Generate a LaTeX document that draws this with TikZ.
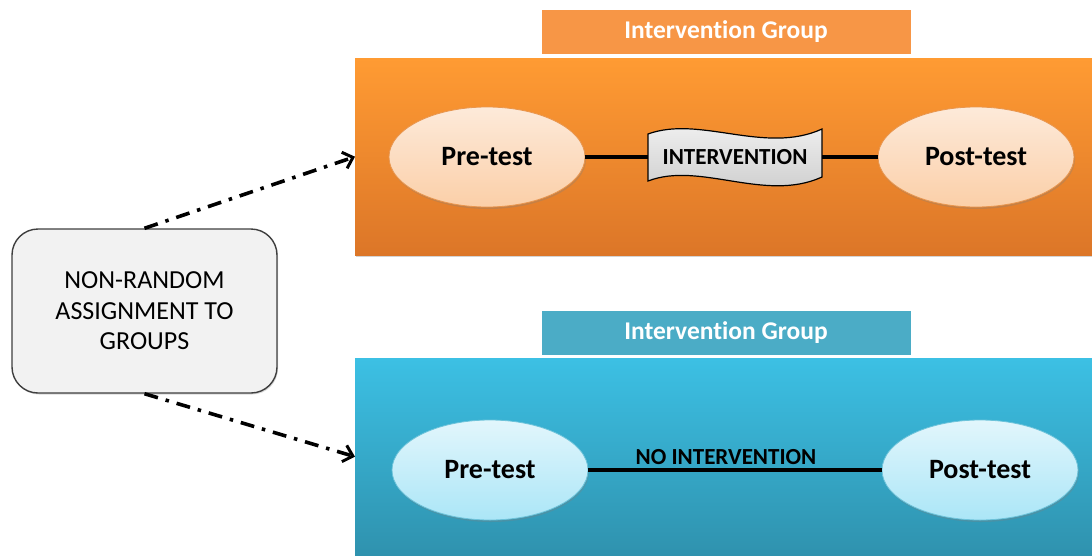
\documentclass[tikz,border=0pt]{standalone}
\usepackage{fontspec}
\setmainfont{Carlito}[RawFeature=-liga]
\usetikzlibrary{arrows.meta,shapes.geometric,shadows}
\definecolor{oTop}{HTML}{FF9B33}
\definecolor{oBot}{HTML}{DC7628}
\definecolor{oLab}{HTML}{F79646}
\definecolor{oEtop}{HTML}{FDEADA}
\definecolor{oEbot}{HTML}{FBCFA8}
\definecolor{oEdge}{HTML}{E8964F}
\definecolor{bTop}{HTML}{3CC0E4}
\definecolor{bBot}{HTML}{2F92AE}
\definecolor{bLab}{HTML}{4BACC6}
\definecolor{bEtop}{HTML}{E2F6FC}
\definecolor{bEbot}{HTML}{ABE6F7}
\definecolor{bEdge}{HTML}{6CC3DA}
\definecolor{nrFill}{HTML}{F2F2F2}
\definecolor{nrEdge}{HTML}{3F3F3F}
\definecolor{wTop}{HTML}{F4F4F4}
\definecolor{wBot}{HTML}{C8C8C8}
\begin{document}
\begin{tikzpicture}[x=1pt,y=-1pt,
  panel/.style={rectangle,anchor=north west,minimum width=737pt,minimum height=197pt,inner sep=0pt,
    drop shadow={opacity=0.35,shadow xshift=1pt,shadow yshift=-2pt}},
  grplabel/.style={rectangle,minimum width=372pt,minimum height=47pt,inner sep=0pt,draw=white,line width=3pt,
    text=white,font=\bfseries\fontsize{25.5}{30}\selectfont,
    drop shadow={opacity=0.3,shadow xshift=1pt,shadow yshift=-1.5pt}},
  oval/.style={ellipse,minimum width=196pt,minimum height=100pt,inner sep=0pt,line width=0.8pt,
    font=\bfseries\fontsize{28}{32}\selectfont,
    drop shadow={opacity=0.3,shadow xshift=1pt,shadow yshift=-2pt}},
  link/.style={line width=3.4pt,black},
  assign/.style={line width=3.6pt,black,dash pattern=on 14pt off 8pt on 3.5pt off 8pt,
    -{Straight Barb[length=9pt,width=17pt,line width=3pt]}}
]
\useasboundingbox (0,0) rectangle (1092,555);

% panels
\node[panel,top color=oTop,bottom color=oBot] (obox) at (355,58) {};
\node[panel,top color=bTop,bottom color=bBot] (bbox) at (355,358) {};

% labels
\node[grplabel,fill=oLab] (olab) at (726,31.5) {Intervention Group};
\node[grplabel,fill=bLab] (blab) at (726,332.5) {Intervention Group};

% left box
\node[rectangle,rounded corners=26pt,draw=nrEdge,line width=1.4pt,fill=nrFill,
  minimum width=265pt,minimum height=164pt,inner sep=0pt,align=center,
  font=\fontsize{26}{30.5}\selectfont,
  drop shadow={opacity=0.3,shadow xshift=1pt,shadow yshift=-1.5pt}] (nr) at (144.5,311)
  {NON-RANDOM\\ASSIGNMENT TO\\GROUPS};

% orange row
\node[oval,draw=oEdge,top color=oEtop,bottom color=oEbot] (pre1) at (487,157) {Pre-test};
\node[oval,draw=oEdge,top color=oEtop,bottom color=oEbot] (post1) at (976,157) {Post-test};
\shade[top color=wTop,bottom color=wBot,draw=black,line width=1.2pt]
  (648,134) .. controls (700,115) and (765,155) .. (822,129)
  -- (822,177) .. controls (765,203) and (700,161) .. (648,181) -- cycle;
\node[minimum width=174pt,minimum height=44pt,inner sep=0pt,
  font=\bfseries\fontsize{23}{27}\selectfont] (iv) at (735,157) {INTERVENTION};
\draw[link] (pre1.east) -- (iv.west);
\draw[link] (iv.east) -- (post1.west);

% blue row
\node[oval,draw=bEdge,top color=bEtop,bottom color=bEbot] (pre2) at (490,470) {Pre-test};
\node[oval,draw=bEdge,top color=bEtop,bottom color=bEbot] (post2) at (980,470) {Post-test};
\draw[link] (pre2.east) -- (post2.west);
\node[font=\bfseries\fontsize{23}{27}\selectfont,inner sep=0pt] (noiv) at (726,457) {NO INTERVENTION};

% assignment arrows
\draw[assign] (nr.north) -- (obox.west);
\draw[assign] (nr.south) -- (bbox.west);
\end{tikzpicture}
\end{document}
